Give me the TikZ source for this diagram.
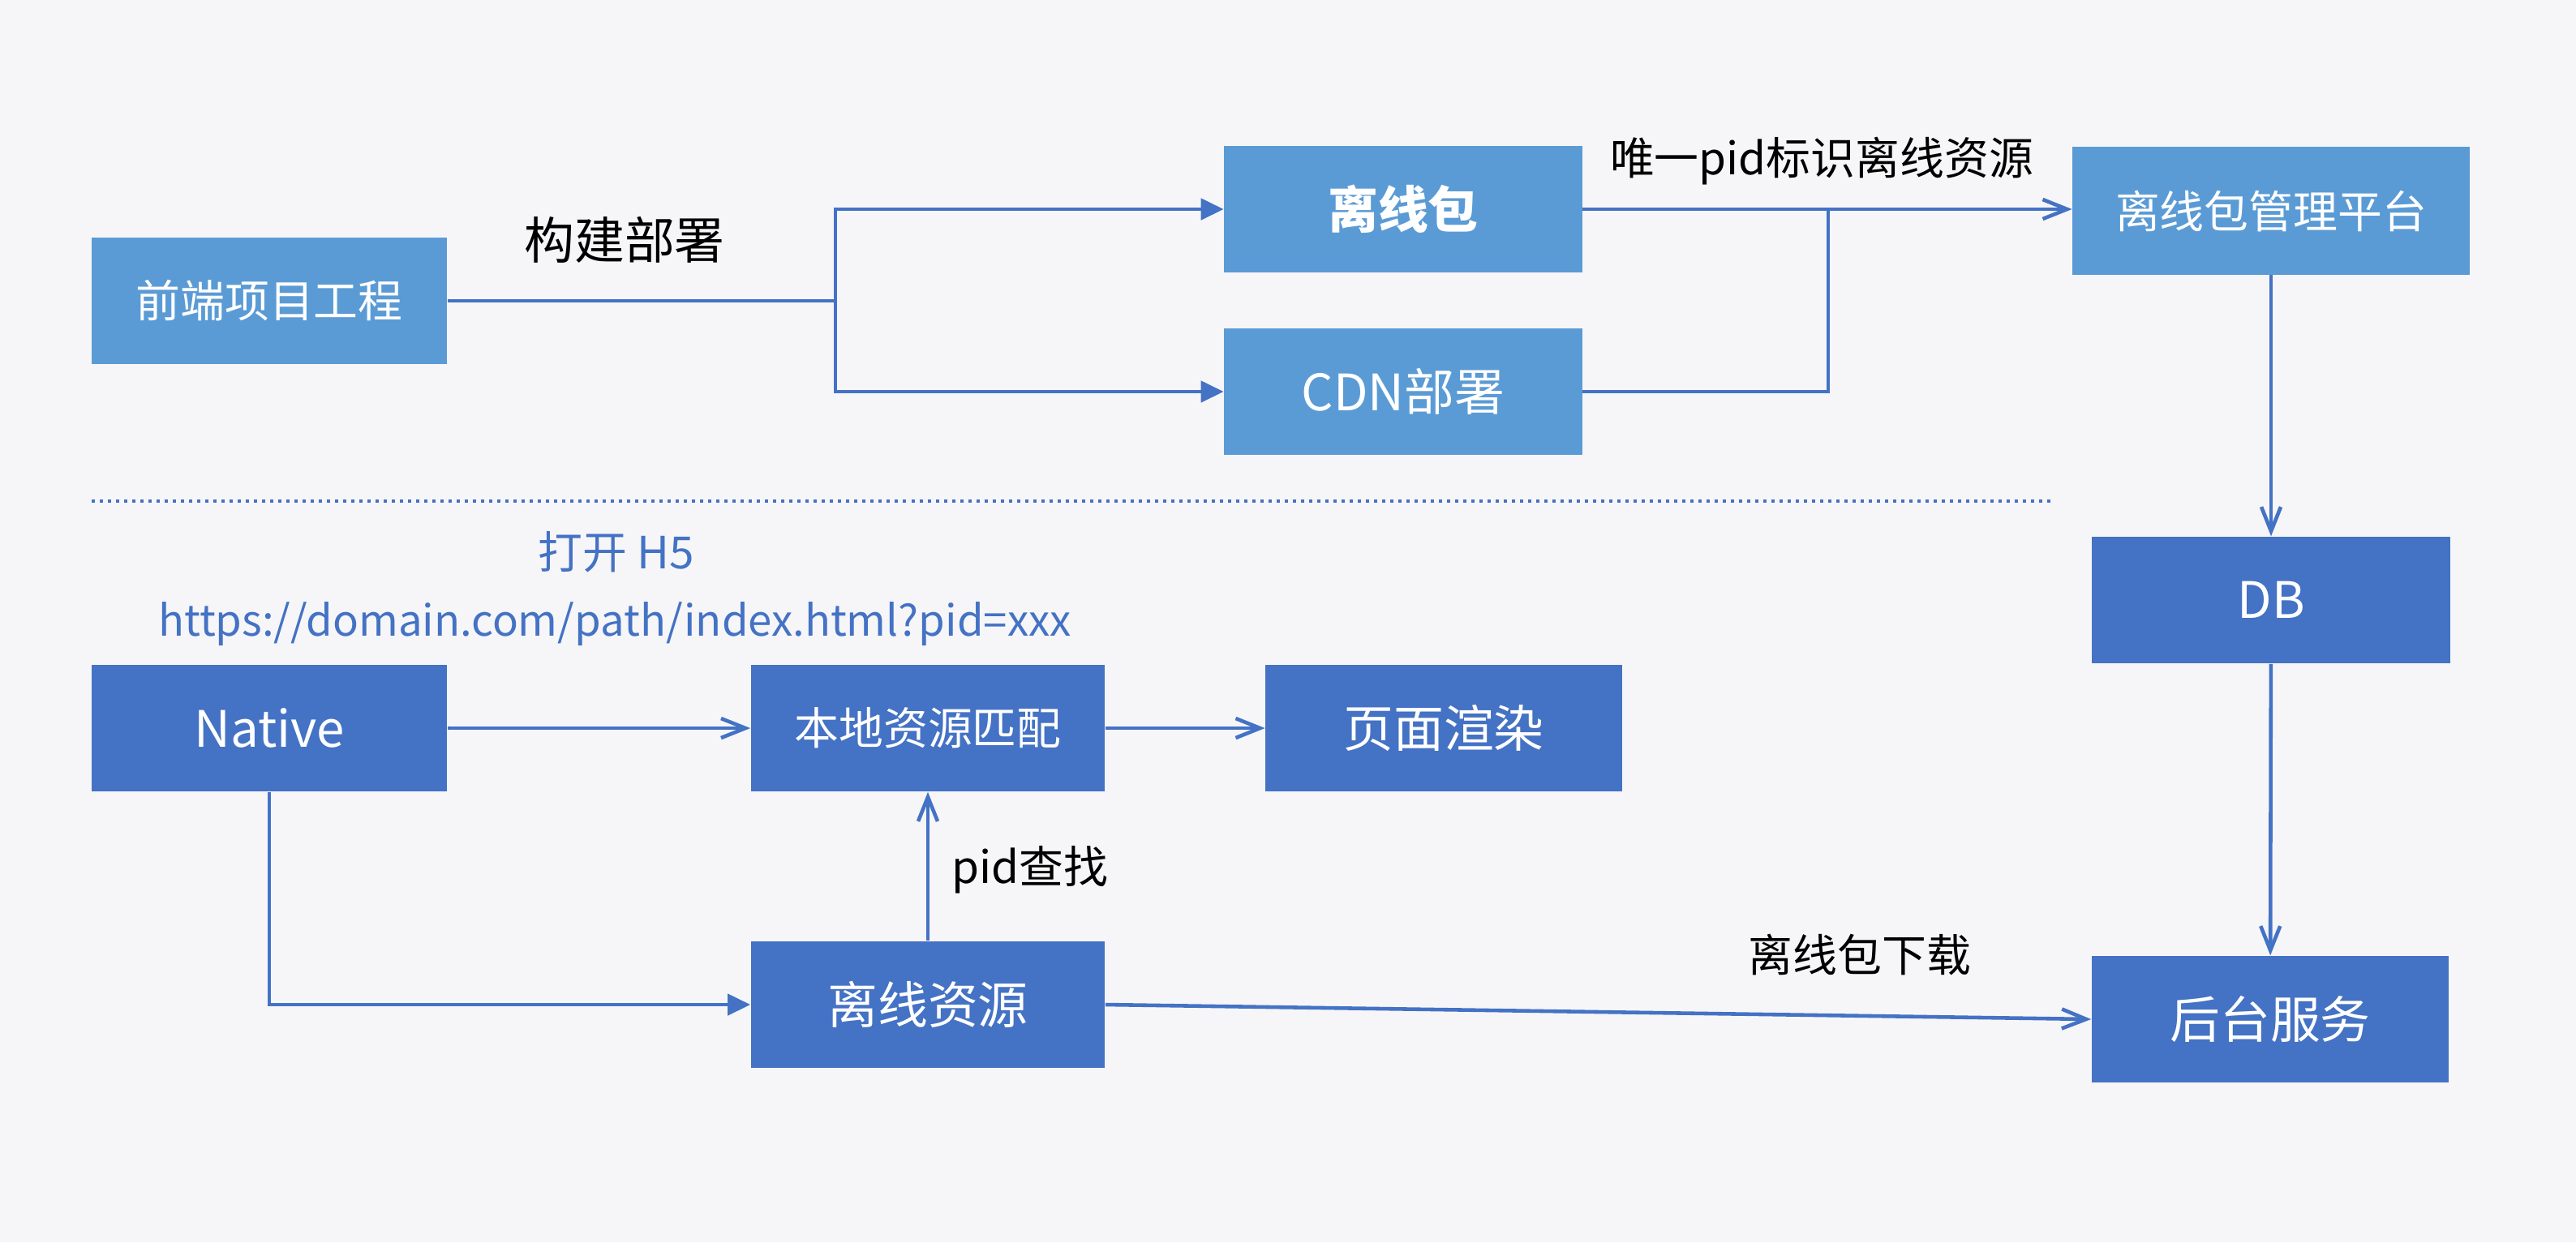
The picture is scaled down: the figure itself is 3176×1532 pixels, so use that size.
\documentclass[tikz,border=0pt]{standalone}
\usepackage{fontspec}
\newfontfamily\cjk{Noto Sans CJK SC}
\usepackage{tikz}
\usetikzlibrary{arrows.meta}
\definecolor{boxlight}{RGB}{91,155,213}
\definecolor{boxdark}{RGB}{68,114,196}
\definecolor{linkblue}{RGB}{68,114,196}
\definecolor{paper}{RGB}{246,246,248}

\begin{document}
\begin{tikzpicture}[x=0.01cm,y=-0.01cm,
  box/.style={rectangle,inner sep=0pt,text=white,minimum height=1.56cm},
  light/.style={box,fill=boxlight},
  dark/.style={box,fill=boxdark},
  small/.style={font=\cjk\fontsize{15.6}{18}\selectfont},
  big/.style={font=\cjk\fontsize{17.6}{20}\selectfont},
  wire/.style={draw=linkblue,line width=1.3pt},
  flow/.style={wire,-{Straight Barb[length=0.3cm,width=0.24cm,line width=1.3pt]}},
  flowfill/.style={wire,-{Triangle[length=0.28cm,width=0.26cm]}}]
  \fill[paper] (0,0) rectangle (3176,1532);
  \node[light,small,minimum width=4.38cm] (fe) at (332,371) {前端项目工程};
  \node[light,font=\cjk\bfseries\fontsize{17.6}{20}\selectfont,minimum width=4.41cm] (pkg) at (1730,258) {离线包};
  \node[light,big,minimum width=4.41cm] (cdn) at (1730,483) {CDN部署};
  \node[light,small,minimum width=4.89cm,minimum height=1.57cm] (mgr) at (2800,260) {离线包管理平台};
  \node[dark,big,minimum width=4.41cm] (db) at (2800,740) {DB};
  \node[dark,big,minimum width=4.40cm] (srv) at (2799,1257) {后台服务};
  \node[dark,big,minimum width=4.38cm] (native) at (332,898) {Native};
  \node[dark,small,minimum width=4.36cm] (match) at (1144,898) {本地资源匹配};
  \node[dark,big,minimum width=4.39cm] (render) at (1780,898) {页面渲染};
  \node[dark,big,minimum width=4.36cm] (res) at (1144,1239) {离线资源};

  \node[big] (buildlbl) at (770,296) {构建部署};
  \node[small] (pidlbl) at (2246,199) {唯一pid标识离线资源};
  \node[small,text=linkblue] (h5lbl) at (760,681) {打开 H5};
  \node[font=\cjk\fontsize{15}{18}\selectfont,text=linkblue] (urllbl) at (758,770) {https://domain.com/path/index.html?pid=xxx};
  \node[small] (findlbl) at (1270,1073) {pid查找};
  \node[small] (dllbl) at (2293,1177) {离线包下载};

  \coordinate (split) at (1030,371);
  \coordinate (merge) at (2254,258);
  \draw[wire] (fe.east) -- (split);
  \draw[flowfill] (split) |- (pkg.west);
  \draw[flowfill] (split) |- (cdn.west);
  \draw[flow] (pkg.east) -- (pkg.east -| mgr.west);
  \draw[wire] (cdn.east) -| (merge);
  \draw[flow] (mgr) -- (db);
  \draw[flow] (db) -- (srv);

  \draw[draw=linkblue,line width=0.04cm,dash pattern=on 0.04cm off 0.06cm] (113,618) -- (2530,618);

  \draw[flow] (native) -- (match);
  \draw[flow] (match) -- (render);
  \draw[flowfill] (native.south) |- (res.west);
  \draw[flow] (res) -- (match);
  \draw[flow] (res.east) -- (srv.west);
\end{tikzpicture}
\end{document}
